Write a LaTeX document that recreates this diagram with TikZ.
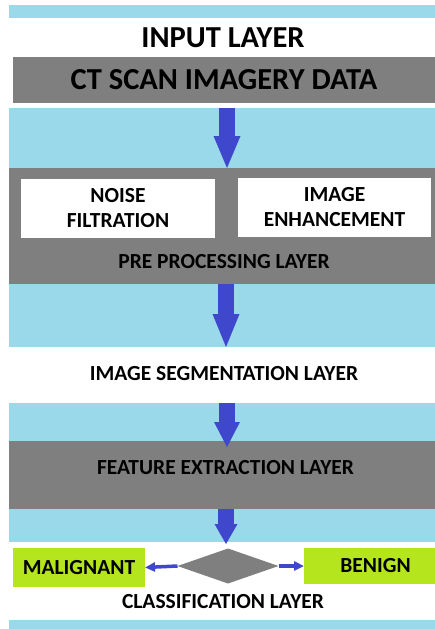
\documentclass[tikz,border=0pt]{standalone}
\usepackage{fontspec}
\setmainfont{Carlito}
\usetikzlibrary{arrows.meta,shapes.geometric}
\definecolor{lblue}{HTML}{99D9EA}
\definecolor{dgray}{HTML}{7F7F7F}
\definecolor{ablue}{HTML}{3F48CC}
\definecolor{lgreen}{HTML}{B5E61D}
\tikzset{
  box/.style={rectangle, inner sep=0pt, outer sep=0pt, draw=none},
  band/.style={box, fill=lblue},
  graybox/.style={box, fill=dgray},
  whitebox/.style={box, fill=white, align=center, font=\bfseries\fontsize{21.5}{25}\selectfont},
  greenbox/.style={box, fill=lgreen, font=\bfseries\fontsize{21.5}{25}\selectfont},
  bigtxt/.style={font=\bfseries\fontsize{30.5}{33}\selectfont, inner sep=0pt},
  txt/.style={font=\bfseries\fontsize{21.5}{25}\selectfont, inner sep=0pt},
  blockarrow/.style={draw=ablue, line width=16pt},
  thinarrow/.style={draw=ablue, line width=3.5pt, -{Triangle[width=9pt,length=10pt]}}
}
\begin{document}
\begin{tikzpicture}[x=1pt, y=-1pt]
\useasboundingbox (0,0) rectangle (435,629);
% bands
\node[band, minimum width=426pt, minimum height=12.5pt] (b1) at (222,11.25) {};
\node[bigtxt] (inp) at (223,38) {INPUT LAYER};
\node[graybox, minimum width=422pt, minimum height=46pt] (ct) at (224,80) {};
\node[bigtxt] (ctt) at (224,80) {CT SCAN IMAGERY DATA};
\node[band, minimum width=426pt, minimum height=60pt] (b2) at (222,138) {};
\node[graybox, minimum width=426pt, minimum height=116pt] (pre) at (222,226) {};
\node[whitebox, minimum width=194pt, minimum height=59pt] (noise) at (118,208.5) {NOISE\\FILTRATION};
\node[whitebox, minimum width=193pt, minimum height=59pt] (enh) at (334.5,207.5) {IMAGE\\ENHANCEMENT};
\node[txt] (pret) at (224,262) {PRE PROCESSING LAYER};
\node[band, minimum width=426pt, minimum height=63pt] (b3) at (222,315.5) {};
\node[txt] (seg) at (224,374) {IMAGE SEGMENTATION LAYER};
\node[band, minimum width=426pt, minimum height=38pt] (b4) at (222,422) {};
\node[graybox, minimum width=426pt, minimum height=68pt] (feat) at (222,475) {};
\node[txt] (featt) at (225.5,468) {FEATURE EXTRACTION LAYER};
\node[band, minimum width=426pt, minimum height=33pt] (b5) at (222,525.5) {};
\node[diamond, fill=dgray, inner sep=0pt, outer sep=0pt, minimum width=101pt, minimum height=35pt] (dia) at (228,566) {};
\node[greenbox, minimum width=132pt, minimum height=39pt] (mal) at (79,567.5) {MALIGNANT};
\node[greenbox, minimum width=131pt, minimum height=36pt] (ben) at (369.5,566) {\hspace*{12pt}BENIGN};
\node[txt] (cls) at (223,602) {CLASSIFICATION LAYER};
\node[band, minimum width=426pt, minimum height=10pt] (b6) at (222,625) {};
% block arrows
\coordinate (a1s) at (227,108);
\coordinate (a1e) at (227,168);
\draw[blockarrow, -{Triangle[width=27pt,length=32pt,line width=0pt]}] (a1s) -- (a1e);
\coordinate (a2s) at (226,284);
\coordinate (a2e) at (226,347);
\draw[blockarrow, -{Triangle[width=27pt,length=33pt,line width=0pt]}] (a2s) -- (a2e);
\coordinate (a3s) at (227,403);
\coordinate (a3e) at (227,447);
\draw[blockarrow, -{Triangle[width=26pt,length=25pt,line width=0pt]}] (a3s) -- (a3e);
\coordinate (a4s) at (226,509);
\coordinate (a4e) at (226,544);
\draw[blockarrow, -{Triangle[width=23pt,length=20pt,line width=0pt]}] (a4s) -- (a4e);
% side arrows
\draw[thinarrow] (dia.west) -- (mal.east);
\draw[thinarrow] (dia.east) -- (ben.west);
\end{tikzpicture}
\end{document}
